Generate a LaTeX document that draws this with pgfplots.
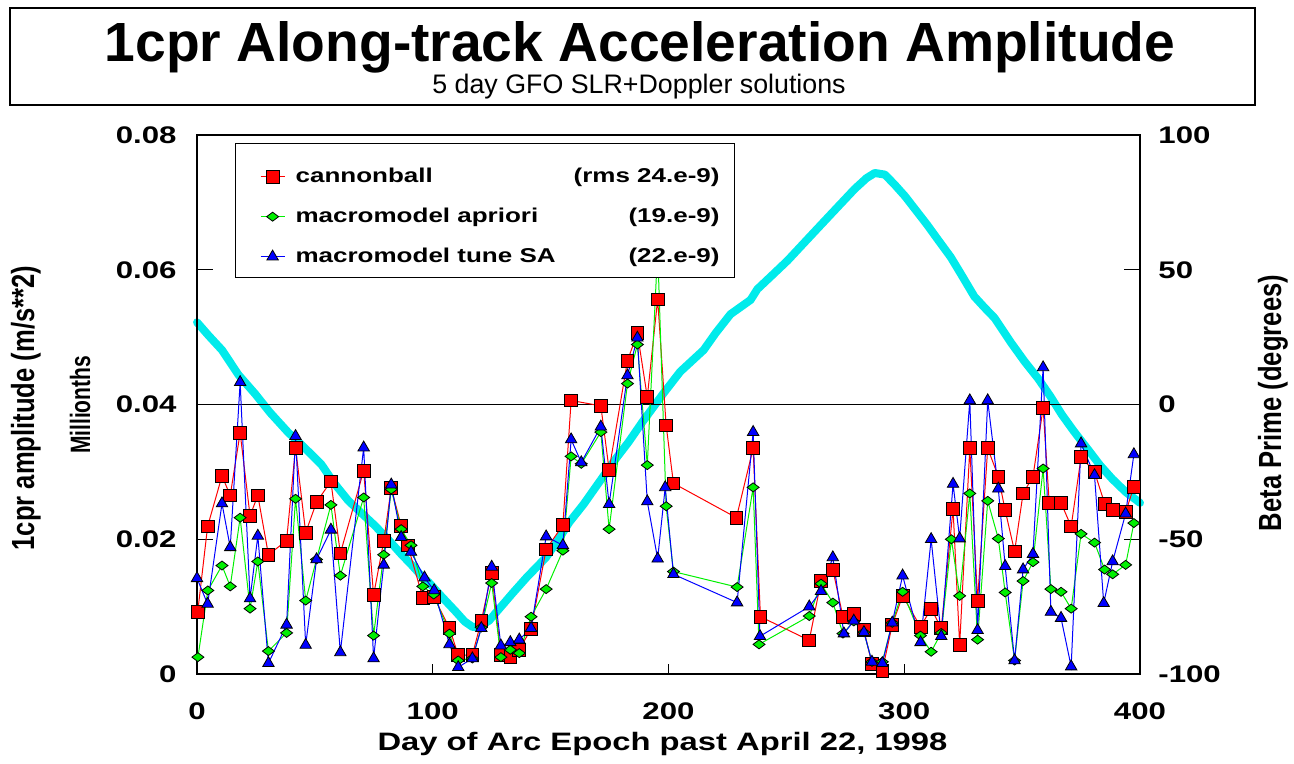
\documentclass[border=0pt]{standalone}
\usepackage{pgfplots}
\pgfplotsset{compat=1.18}
\usepackage{fontspec}
\setmainfont{Liberation Sans}
\newfontfamily\wf{Liberation Sans}[FakeStretch=1.3]
\newfontfamily\nf{Liberation Sans}[FakeStretch=0.8]
\newfontfamily\mf{Liberation Sans}[FakeStretch=0.75]
\definecolor{cy}{RGB}{0,235,235}
\definecolor{gr}{RGB}{0,240,0}
\newcommand\tickfont{\wf\bfseries\fontsize{12}{14}\selectfont}
\begin{document}
\begin{tikzpicture}
\useasboundingbox (0,0) rectangle (647pt,382pt);
\draw[line width=0.8pt] (5pt,329.5pt) rectangle (627.5pt,378pt);
\node[anchor=base, inner sep=0pt, font=\bfseries\fontsize{27.6}{30}\selectfont] at (320pt,351pt) {1cpr Along-track Acceleration Amplitude};
\node[anchor=base, inner sep=0pt, font=\fontsize{13.4}{15}\selectfont] at (319.5pt,335pt) {5 day GFO SLR+Doppler solutions};

\begin{axis}[at={(98.5pt,45pt)}, anchor=south west, scale only axis,
  width=471.5pt, height=269.5pt,
  xmin=0, xmax=400, ymin=-100, ymax=100,
  axis x line=none, axis y line*=right, clip=false,
  ytick={-100,-50,0,50,100}, yticklabels={-100,-50,0,50,100},
  tick align=inside,
  ytick style={black, line width=0.5pt, /pgfplots/major tick length=8pt},
  axis line style={black, line width=0.6pt},
  yticklabel style={anchor=west, inner sep=0pt, xshift=9pt, font=\tickfont}]
\addplot[cy, line width=4pt, line join=round, line cap=round] coordinates {
(0,30.5)(5,25.5)(10.6,20.2)(17.6,11)(24.6,4)(31,-3)(38.7,-10.4)(45,-15.5)(52.8,-22.3)(58,-29)(64.1,-35.6)(70,-40.5)(75.4,-44.9)(81,-50)(86.6,-55.5)(91,-59.5)(95.1,-63.5)(98.3,-66)(104,-71.5)(109.7,-76.8)(113.5,-80.5)(116.8,-82.5)(119.5,-82.5)(123.9,-80.2)(128,-76)(133.9,-70)(140,-64)(148,-56.8)(153,-50.5)(158,-43.6)(164,-37)(169.4,-30.3)(178,-19.7)(183,-14)(189,-6.4)(197.9,4.2)(205,12.2)(214.9,20.2)(220,26.5)(226.3,33.5)(234.8,38.8)(237.7,42.8)(244,48)(250.5,53.4)(257,59.5)(264.7,66.7)(272,73.5)(279,80)(284,84)(287.5,85.9)(291.8,85.3)(296,81.5)(300.3,77.3)(305,72)(309.7,66.7)(314,61.5)(319.7,54.7)(324,48.5)(329.7,40.1)(334,36)(338.3,32.1)(345.4,22.8)(351,16)(356.8,9.6)(362,3)(366.8,-3.7)(372,-10)(378.2,-17)(383,-22.5)(388.2,-27.6)(394,-32.5)(400,-36.5)
};
\end{axis}

\begin{axis}[at={(98.5pt,45pt)}, anchor=south west, scale only axis,
  width=471.5pt, height=269.5pt,
  xmin=0, xmax=400, ymin=0, ymax=0.08, clip=false,
  scaled y ticks=false, scaled x ticks=false,
  xtick={0,100,200,300,400}, xticklabels={0,100,200,300,400},
  ytick={0,0.02,0.04,0.06,0.08}, yticklabels={0,0.02,0.04,0.06,0.08},
  tick pos=left, tick align=inside,
  xtick style={black, line width=0.5pt, /pgfplots/major tick length=5pt},
  ytick style={black, line width=0.5pt, /pgfplots/major tick length=8pt},
  extra y ticks={0.04}, extra y tick labels={},
  extra y tick style={grid=major, major grid style={black, line width=0.6pt}},
  axis line style={black, line width=0.6pt},
  yticklabel style={anchor=east, inner sep=0pt, xshift=-10pt, font=\tickfont},
  xticklabel style={anchor=north, inner sep=0pt, yshift=-14pt, font=\tickfont},
  legend image code/.code={
    \path[draw=none, fill=none] (-3.5pt,0pt) -- (19pt,0pt);
    \draw[mark repeat=2, mark phase=2, #1] plot coordinates {(1.5pt,3pt)(7.5pt,3pt)(13.5pt,3pt)};
  },
  legend style={at={(axis description cs:0.0403,0.985)}, anchor=north west,
    draw=black, line width=0.6pt, fill=white,
    inner xsep=7.5pt, inner ysep=4pt, row sep=7.5pt,
    cells={anchor=base west}, nodes={inner sep=0pt, text depth={}},
    font=\wf\bfseries\fontsize{10}{12}\selectfont}]
\addplot[red, line width=0.5pt, mark=square*, mark size=3.2pt,
  mark options={fill=red, draw=black, line width=0.4pt}] coordinates {
(0.3,0.0092)(4.5,0.0219)(10.6,0.0294)(14.1,0.0265)(18.3,0.0358)(22.5,0.0235)(25.8,0.0265)(30.3,0.0177)(38.0,0.0198)(41.8,0.0336)(46.1,0.0210)(50.7,0.0255)(56.8,0.0286)(60.8,0.0179)(70.7,0.0302)(74.9,0.0117)(79.2,0.0197)(82.4,0.0276)(86.6,0.0220)(89.4,0.0191)(95.8,0.0113)(100.4,0.0115)(107.1,0.0068)(110.8,0.0028)(116.8,0.0028)(120.6,0.0079)(125.0,0.0150)(128.9,0.0028)(132.9,0.0025)(136.7,0.0036)(141.7,0.0067)(148.1,0.0185)(155.2,0.0221)(158.7,0.0406)(171.3,0.0398)(174.8,0.0303)(182.6,0.0465)(186.8,0.0506)(191.0,0.0411)(195.4,0.0556)(199.0,0.0369)(202.1,0.0283)(228.8,0.0232)(235.9,0.0335)(239.0,0.0085)(259.7,0.0050)(264.7,0.0138)(269.7,0.0155)(274.0,0.0085)(278.6,0.0089)(282.9,0.0065)(286.3,0.0015)(290.7,0.0005)(294.9,0.0073)(299.3,0.0116)(306.9,0.0070)(311.4,0.0097)(315.7,0.0068)(320.7,0.0245)(323.5,0.0043)(327.8,0.0335)(331.1,0.0109)(335.4,0.0335)(339.9,0.0293)(342.8,0.0243)(346.8,0.0182)(350.4,0.0268)(354.6,0.0293)(358.9,0.0395)(361.5,0.0254)(366.5,0.0254)(370.8,0.0219)(375.0,0.0322)(380.7,0.0300)(385.0,0.0253)(388.4,0.0243)(393.9,0.0240)(397.4,0.0278)
};
\addlegendentry{\rule[-3.5pt]{0pt}{19pt}\makebox[212pt][l]{cannonball\hfill(rms 24.e-9)}}
\addplot[gr, line width=0.5pt, mark=diamond*, mark size=3pt,
  mark options={fill=gr, draw=black, line width=0.4pt, rotate=90}] coordinates {
(0.4,0.0025)(4.6,0.0124)(10.6,0.0161)(14.1,0.0130)(18.3,0.0232)(22.5,0.0097)(25.8,0.0167)(30.3,0.0034)(38.0,0.0061)(41.8,0.0260)(46.1,0.0109)(50.7,0.0170)(56.8,0.0251)(60.8,0.0146)(70.7,0.0262)(74.9,0.0057)(79.2,0.0177)(82.4,0.0274)(86.6,0.0215)(90.8,0.0191)(95.8,0.0130)(100.4,0.0118)(107.1,0.0060)(110.8,0.0020)(116.8,0.0023)(120.6,0.0069)(125.0,0.0135)(128.9,0.0025)(132.9,0.0036)(136.7,0.0031)(141.7,0.0085)(148.1,0.0126)(155.2,0.0183)(158.7,0.0323)(163.0,0.0312)(171.3,0.0359)(174.8,0.0215)(182.6,0.0431)(186.8,0.0489)(191.0,0.0310)(195.4,0.0630)(199.0,0.0249)(202.1,0.0152)(229.1,0.0129)(235.9,0.0277)(238.4,0.0044)(259.7,0.0086)(264.7,0.0134)(269.7,0.0106)(274.0,0.0060)(278.6,0.0078)(282.9,0.0062)(286.3,0.0018)(290.7,0.0018)(294.9,0.0076)(299.3,0.0122)(306.9,0.0057)(311.4,0.0033)(315.7,0.0061)(320.0,0.0200)(323.5,0.0116)(327.8,0.0268)(331.1,0.0051)(335.4,0.0257)(339.9,0.0201)(342.8,0.0121)(346.8,0.0020)(350.4,0.0138)(354.6,0.0166)(358.9,0.0305)(362.2,0.0126)(366.5,0.0122)(370.8,0.0097)(375.0,0.0208)(380.7,0.0195)(385.0,0.0155)(388.4,0.0148)(393.9,0.0162)(397.4,0.0224)
};
\addlegendentry{\rule[-3.5pt]{0pt}{12.5pt}\makebox[212pt][l]{macromodel apriori\hfill(19.e-9)}}
\addplot[blue, line width=0.5pt, mark=triangle*, mark size=3.3pt,
  mark options={fill=blue, draw=black, line width=0.4pt}] coordinates {
(0,0.0142)(4.5,0.0104)(10.6,0.0253)(14.1,0.0188)(18.3,0.0433)(22.5,0.0112)(25.8,0.0205)(30.3,0.0016)(38.0,0.0073)(41.8,0.0353)(46.1,0.0043)(50.7,0.0170)(56.8,0.0214)(60.8,0.0032)(70.7,0.0336)(74.9,0.0023)(79.2,0.0162)(82.4,0.0281)(86.6,0.0203)(90.8,0.0181)(96.5,0.0143)(100.6,0.0124)(107.1,0.0044)(110.8,0.0010)(116.8,0.0023)(120.6,0.0068)(125.0,0.0159)(128.9,0.0042)(132.9,0.0047)(136.7,0.0051)(141.7,0.0068)(148.1,0.0204)(155.2,0.0191)(158.7,0.0348)(163.0,0.0314)(171.3,0.0367)(174.8,0.0252)(182.6,0.0443)(186.8,0.0499)(191.0,0.0256)(195.4,0.0171)(198.6,0.0277)(202.1,0.0148)(229.1,0.0106)(235.9,0.0359)(238.8,0.0056)(259.7,0.0100)(264.7,0.0123)(269.7,0.0173)(274.4,0.0060)(278.6,0.0079)(282.9,0.0062)(286.3,0.0018)(290.7,0.0016)(294.9,0.0076)(299.3,0.0146)(306.9,0.0047)(311.4,0.0200)(315.7,0.0056)(320.7,0.0282)(323.5,0.0201)(327.8,0.0406)(331.1,0.0065)(335.4,0.0406)(339.9,0.0275)(342.8,0.0160)(346.8,0.0020)(350.4,0.0155)(354.6,0.0178)(358.9,0.0455)(362.2,0.0092)(366.5,0.0083)(370.8,0.0011)(375.0,0.0342)(380.7,0.0295)(384.6,0.0105)(388.4,0.0167)(393.9,0.0238)(397.4,0.0326)
};
\addlegendentry{\rule[-3.5pt]{0pt}{12.5pt}\makebox[212pt][l]{macromodel tune SA\hfill(22.e-9)}}
\end{axis}

\node[anchor=base, inner sep=0pt, font=\wf\bfseries\fontsize{12.6}{14}\selectfont] at (331.25pt,6.5pt) {Day of Arc Epoch past April 22, 1998};
\node[anchor=base, rotate=90, inner sep=0pt, font=\nf\bfseries\fontsize{16}{18}\selectfont] at (17pt,178pt) {1cpr amplitude (m/s**2)};
\node[anchor=base, rotate=90, inner sep=0pt, font=\mf\bfseries\fontsize{14}{16}\selectfont] at (45pt,179.5pt) {Millionths};
\node[anchor=base, rotate=90, inner sep=0pt, font=\nf\bfseries\fontsize{16}{18}\selectfont] at (640.5pt,180.5pt) {Beta Prime (degrees)};
\end{tikzpicture}
\end{document}
